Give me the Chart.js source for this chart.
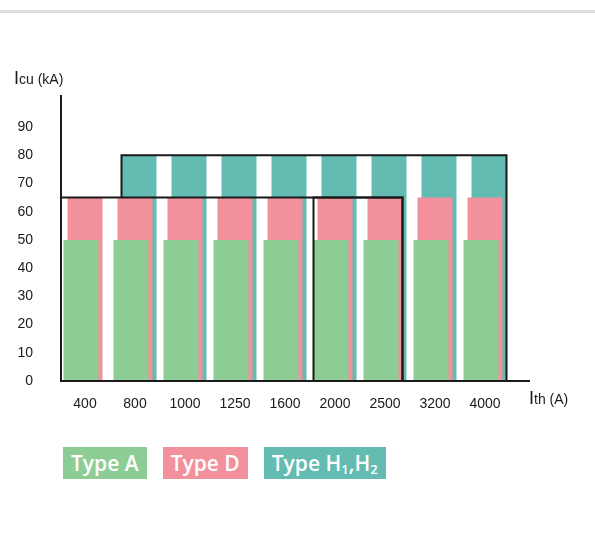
<!DOCTYPE html>
<html>
<head>
<meta charset="utf-8">
<script src="https://cdn.jsdelivr.net/npm/chart.js@4.4.1/dist/chart.umd.min.js"></script>
<style>
  html, body { margin: 0; padding: 0; background: #fff; }
  body { width: 595px; height: 551px; position: relative; overflow: hidden; font-family: "Liberation Sans", Arial, sans-serif; }
  .rule { position: absolute; left: 0; top: 10px; width: 595px; height: 3px; background: #dedede; }
  #wrap { position: absolute; left: 0; top: 0; width: 595px; height: 430px; }
  .axis-title { position: absolute; color: #1a1a1a; white-space: nowrap; line-height: 20px; }
  .axis-title .big { font-size: 18px; }
  .axis-title .small { font-size: 14px; }
  #legend { position: absolute; left: 63px; top: 447px; display: flex; gap: 16px; }
  #legend .item { height: 32px; line-height: 32px; padding: 0 8px; color: #fff;
    font-family: "Open Sans", sans-serif; font-weight: 600; font-size: 21px; white-space: nowrap; }
  #legend sub { font-size: 13px; vertical-align: -3px; line-height: 0; }
</style>
</head>
<body>
<div class="rule"></div>
<div id="wrap"><canvas id="chart" width="595" height="430"></canvas></div>
<div class="axis-title" style="left:14px; top:68px;"><span class="big">I</span><span class="small">cu (kA)</span></div>
<div class="axis-title" style="left:529px; top:388px;"><span class="big">I</span><span class="small">th (A)</span></div>
<div id="legend"></div>
<script>
// Rated current categories (A) and breaking capacity per type (kA)
const categories = ['400', '800', '1000', '1250', '1600', '2000', '2500', '3200', '4000'];
const typeA = [50, 50, 50, 50, 50, 50, 50, 50, 50];
const typeD = [65, 65, 65, 65, 65, 65, 65, 65, 65];
const typeH = [null, 80, 80, 80, 80, 80, 80, 80, 80];
const yTickValues = [0, 10, 20, 30, 40, 50, 60, 70, 80, 90];
const seriesNames = ['Type A', 'Type D', 'Type H₁,H₂'];
const seriesColors = ['#8ecc96', '#f2919b', '#63bbb1'];

// Ranges framed by a black outline: series level, first and last category
const outlines = [
  { series: 1, from: null, to: '2500' },
  { series: 1, from: '2000', fromSeries: 0, to: '2500' },
  { series: 2, from: '800', to: '4000' }
];

// Horizontal stagger of each series inside its category (px)
const barShift = [-4, 0, 4];
const ink = '#1a1a1a';

const datasets = [typeA, typeD, typeH].map((values, i) => ({
  label: seriesNames[i],
  data: values,
  backgroundColor: seriesColors[i],
  borderWidth: 0,
  barPercentage: 0.7,
  categoryPercentage: 1.0,
  grouped: false
}));

function barEdges(chart, series, catIndex) {
  const el = chart.getDatasetMeta(series).data[catIndex];
  const cx = el.x + barShift[series];
  return { left: cx - el.width / 2, right: cx + el.width / 2, top: el.y };
}

const staggerPlugin = {
  id: 'stagger',
  beforeDatasetDraw(chart, args) {
    chart.ctx.save();
    chart.ctx.translate(barShift[args.index], 0);
  },
  afterDatasetDraw(chart) {
    chart.ctx.restore();
  }
};

const framePlugin = {
  id: 'frame',
  afterDatasetsDraw(chart) {
    const { ctx, chartArea } = chart;
    const boxes = outlines.map(o => {
      const toIdx = categories.indexOf(o.to);
      const right = barEdges(chart, o.series, toIdx).right;
      let left;
      if (o.from === null) {
        left = chartArea.left + 1;
      } else {
        const fromIdx = categories.indexOf(o.from);
        const s = o.fromSeries !== undefined ? o.fromSeries : o.series;
        left = barEdges(chart, s, fromIdx).left;
      }
      const top = barEdges(chart, o.series, toIdx).top;
      return { left, right, top };
    });
    // a side stops where it enters a lower frame, otherwise runs to the baseline
    const sideBottom = (box, x) => {
      let b = chartArea.bottom;
      boxes.forEach(other => {
        if (other !== box && other.top > box.top + 0.5 && x > other.left && x < other.right) {
          b = Math.min(b, other.top);
        }
      });
      return b;
    };
    ctx.save();
    ctx.strokeStyle = ink;
    ctx.lineWidth = 2;
    ctx.lineJoin = 'miter';
    boxes.forEach(box => {
      ctx.beginPath();
      ctx.moveTo(box.left, sideBottom(box, box.left));
      ctx.lineTo(box.left, box.top);
      ctx.lineTo(box.right, box.top);
      ctx.lineTo(box.right, sideBottom(box, box.right));
      ctx.stroke();
    });
    // axis lines
    ctx.beginPath();
    ctx.moveTo(chartArea.left + 1, chartArea.top - 1);
    ctx.lineTo(chartArea.left + 1, chartArea.bottom + 1);
    ctx.moveTo(chartArea.left, chartArea.bottom);
    ctx.lineTo(chartArea.right + 20, chartArea.bottom);
    ctx.stroke();
    ctx.restore();
  }
};

new Chart(document.getElementById('chart'), {
  type: 'bar',
  data: { labels: categories, datasets },
  options: {
    responsive: false,
    animation: false,
    devicePixelRatio: 1,
    layout: { padding: { top: 96, right: 85, bottom: 9, left: 0 } },
    plugins: { legend: { display: false }, tooltip: { enabled: false } },
    scales: {
      x: {
        grid: { display: false },
        border: { display: false },
        ticks: {
          color: ink,
          font: { family: '"Liberation Sans", Arial, sans-serif', size: 14 },
          padding: 7,
          maxRotation: 0,
          autoSkip: false
        },
        afterFit(scale) {
          scale.height = 40;
          scale.paddingLeft = 0;
          scale.paddingRight = 0;
        }
      },
      y: {
        min: 0,
        max: 101,
        grid: { display: false },
        border: { display: false },
        afterBuildTicks(scale) {
          scale.ticks = yTickValues.map(v => ({ value: v }));
        },
        ticks: {
          color: ink,
          font: { family: '"Liberation Sans", Arial, sans-serif', size: 14 },
          padding: 19
        },
        afterFit(scale) {
          scale.width = 60;
          scale.paddingTop = 0;
          scale.paddingBottom = 0;
        }
      }
    }
  },
  plugins: [staggerPlugin, framePlugin]
});

// Legend chips
const legend = document.getElementById('legend');
seriesNames.forEach((name, i) => {
  const item = document.createElement('div');
  item.className = 'item';
  item.style.background = seriesColors[i];
  item.innerHTML = name.replace(/[₀-₉]/g, ch => '<sub>' + (ch.charCodeAt(0) - 0x2080) + '</sub>');
  legend.appendChild(item);
});
</script>
</body>
</html>
